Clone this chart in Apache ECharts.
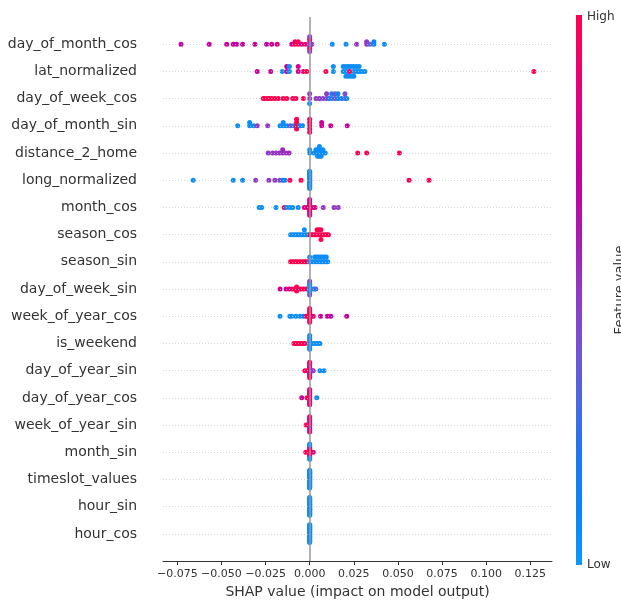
<!DOCTYPE html>
<html><head><meta charset="utf-8">
<script src="https://cdn.jsdelivr.net/npm/echarts@6/dist/echarts.min.js"></script>
<style>html,body{margin:0;padding:0;background:#fff}#c{width:621px;height:604px}</style>
</head><body><div id="c"></div>
<script>
// Feature names, top (most important) to bottom
const features = ['day_of_month_cos','lat_normalized','day_of_week_cos','day_of_month_sin','distance_2_home',
  'long_normalized','month_cos','season_cos','season_sin','day_of_week_sin','week_of_year_cos','is_weekend',
  'day_of_year_sin','day_of_year_cos','week_of_year_sin','month_sin','timeslot_values','hour_sin','hour_cos'];
const xTicks = [-0.075,-0.05,-0.025,0,0.025,0.05,0.075,0.1,0.125];
const colorbarLabels = ['High','Low'];
const colorbarTitle = 'Feature value';
const xTitle = 'SHAP value (impact on model output)';

// each entry: [SHAP value, normalized feature value (0 = low, 1 = high), number of samples]
const day_of_month_cos = [[-0.0729,0.72,1],[-0.0569,0.72,1],[-0.047,0.72,1],[-0.0433,0.72,1],[-0.0414,0.72,1],[-0.038,0.72,1],
  [-0.031,0.72,1],[-0.0244,0.72,1],[-0.0215,0.78,1],[-0.0184,0.85,1],[-0.0102,0.78,1],[-0.0083,0.95,2],[-0.0065,1,2],
  [-0.0045,0.8,1],[-0.0025,0.9,1],[0,0.5,3],[0,0.95,2],[0,0.5,2],[0.0012,0.5,1],[0.0128,0.05,1],[0.0206,0.05,1],
  [0.0266,0.5,1],[0.0323,0.5,2],[0.0342,0.35,1],[0.0364,0.1,2],[0.0423,0.05,1]];
const lat_normalized = [[-0.0297,0.72,1],[-0.0221,0.72,1],[-0.0155,0.05,1],[-0.013,0.72,2],[-0.0115,0.05,2],[-0.0065,0.8,2],
  [-0.0036,0.9,1],[-0.0017,1,1],[0.0092,1,1],[0.0134,0.05,2],[0.019,0.05,2],[0.0205,0.05,3],[0.022,0.05,3],[0.0228,1,1],
  [0.0235,0.05,2],[0.025,0.05,3],[0.0265,0.05,2],[0.028,0.05,2],[0.0295,0.05,1],[0.0313,0.05,1],[0.127,1,1]];
const day_of_week_cos = [[-0.0263,1,1],[-0.0255,1,1],[-0.024,1,1],[-0.0228,1,1],[-0.0215,1,1],[-0.0197,1,1],[-0.0178,1,1],
  [-0.015,1,1],[-0.013,1,1],[-0.0096,1,1],[-0.0078,1,1],[-0.0036,1,1],[0,0.5,2],[0,0.05,1],[0.0036,0.5,1],[0.0055,0.5,1],
  [0.0075,0.45,1],[0.0096,0.5,2],[0.011,0.2,1],[0.0125,0.1,2],[0.0143,0.4,2],[0.016,0.1,2],[0.018,0.1,1],[0.02,0.4,2],[0.021,0.05,1]];
const day_of_month_sin = [[-0.0408,0.05,1],[-0.034,0.05,2],[-0.0318,0.05,1],[-0.0297,0.5,1],[-0.0238,0.5,1],[-0.0168,0.05,1],
  [-0.015,0.05,2],[-0.013,0.05,1],[-0.011,0.4,1],[-0.009,0.05,1],[-0.0074,1,4],[-0.0055,0.1,1],[-0.004,0.05,1],[0,0.95,5],
  [0.0068,0.78,2],[0.0119,0.78,1],[0.0213,0.75,1]];
const distance_2_home = [[-0.0235,0.5,1],[-0.021,0.5,1],[-0.0191,0.5,1],[-0.0172,0.5,1],[-0.0153,0.55,2],[-0.0134,0.5,1],
  [-0.0117,0.55,1],[0,0.05,2],[0.0025,0.05,1],[0.0035,0.05,2],[0.0045,0.05,3],[0.0055,0.05,4],[0.0065,0.05,3],[0.0075,0.05,2],
  [0.0088,0.05,1],[0.0272,1,1],[0.0323,1,1],[0.0508,1,1]];
const long_normalized = [[-0.066,0.05,1],[-0.0433,0.05,1],[-0.038,0.05,1],[-0.0306,0.5,1],[-0.0231,0.5,1],[-0.0197,0.5,1],
  [-0.017,0.45,1],[-0.0153,0.2,1],[-0.014,0.1,1],[-0.0112,1,1],[-0.0049,1,1],[0,0.05,22],[0.0563,1,1],[0.0676,1,1]];
const month_cos = [[-0.0286,0.05,1],[-0.0272,0.05,1],[-0.0191,0.05,1],[-0.0144,1,1],[-0.013,0.05,1],[-0.0112,0.05,1],
  [-0.0096,0.05,1],[-0.0065,0.05,1],[-0.003,0.9,1],[-0.0015,0.85,1],[0,0.85,9],[0.0015,0.9,1],[0.003,0.8,1],
  [0.0077,0.5,1],[0.0138,0.5,1],[0.0162,0.5,1]];
const season_cos = [[-0.0108,0.05,1],[-0.0096,0.05,1],[-0.0085,0.05,1],[-0.0074,0.05,1],[-0.0063,0.05,1],[-0.0052,0.05,1],
  [-0.0041,0.05,1],[-0.003,0.05,2],[-0.0019,0.05,1],[-0.0008,0.05,1],[0.0002,1,1],[0.0012,1,1],[0.0022,1,1],[0.0032,1,1],
  [0.0042,1,2],[0.0052,1,2],[0.0064,1,3],[0.0075,1,1],[0.0085,1,1],[0.0096,1,1],[0.0106,1,1]];
const season_sin = [[-0.0108,1,1],[-0.0097,1,1],[-0.0086,1,1],[-0.0075,1,1],[-0.0064,1,1],[-0.0053,1,1],[-0.0042,1,1],
  [-0.0031,1,1],[-0.002,1,1],[-0.0009,1,1],[0,0.05,2],[0.0006,0.05,1],[0.0017,0.05,1],[0.0028,0.05,2],[0.0039,0.05,2],
  [0.005,0.05,2],[0.0061,0.05,2],[0.0072,0.05,2],[0.0083,0.05,2],[0.0094,0.05,2],[0.0102,0.05,1]];
const day_of_week_sin = [[-0.0168,0.78,1],[-0.0134,0.8,1],[-0.0115,0.85,1],[-0.01,0.9,1],[-0.0085,1,1],[-0.0074,1,3],
  [-0.006,1,1],[-0.005,0.9,1],[-0.0036,1,1],[-0.002,1,1],[0,0.05,6],[0,0.4,2],[0.0011,0.05,1],[0.0025,0.05,1],[0.0035,0.3,1]];
const week_of_year_cos = [[-0.0168,0.05,1],[-0.0112,0.05,1],[-0.0102,0.05,1],[-0.0078,0.05,1],[-0.0055,0.05,1],
  [-0.0036,0.1,1],[-0.002,0.9,1],[-0.001,1,1],[0,1,8],[0.001,1,1],[0.002,0.9,1],[0.0062,0.75,1],[0.01,0.72,1],
  [0.012,0.7,1],[0.021,0.75,1]];
const is_weekend = [[-0.0089,1,1],[-0.0078,1,1],[-0.0067,1,1],[-0.0056,1,1],[-0.0045,1,1],[-0.0034,1,1],[-0.0027,1,1],
  [0,0.05,8],[0.0012,0.05,1],[0.0025,0.05,1],[0.0037,0.05,1],[0.0048,0.05,1],[0.0058,0.05,1]];
const day_of_year_sin = [[-0.0027,1,1],[-0.0013,0.9,1],[0,0.9,6],[0,0.6,2],[0,0.95,4],[0.0013,0.6,1],[0.002,0.5,1],
  [0.0058,0.05,1],[0.0081,0.05,1]];
const day_of_year_cos = [[-0.0045,0.75,1],[-0.0015,1,1],[0,0.9,12],[0.004,0.05,1]];
const week_of_year_sin = [[-0.002,1,1],[0,0.95,4],[0,0.6,3],[0,0.9,5]];
const month_sin = [[-0.0022,1,1],[0,1,6],[0,0.8,2],[0,0.05,4],[0.002,0.9,1]];
const timeslot_values = [[0,0.05,30]];
const hour_sin = [[0,0.05,30]];
const hour_cos = [[0,0.05,30]];

const featureData = [day_of_month_cos, lat_normalized, day_of_week_cos, day_of_month_sin, distance_2_home,
  long_normalized, month_cos, season_cos, season_sin, day_of_week_sin, week_of_year_cos, is_weekend,
  day_of_year_sin, day_of_year_cos, week_of_year_sin, month_sin, timeslot_values, hour_sin, hour_cos];

const cmap = ['#0d97fb','#0a85f3','#1d78ee','#4d67e2','#7651d4','#9238c4','#ab18b3','#c000a2','#d7008e','#ec0071','#ff0052'];

// SHAP-style beeswarm vertical layout
function beeswarm(entries, rowPos) {
  const vals = [], fvs = [];
  entries.forEach(([v, f, c]) => { for (let k = 0; k < c; k++) { vals.push(v); fvs.push(f); } });
  const N = vals.length;
  const mn = Math.min(...vals), mx = Math.max(...vals);
  const quant = vals.map(v => Math.round(100 * (v - mn) / (mx - mn + 1e-8)));
  const inds = vals.map((_, i) => i).sort((a, b) => quant[a] - quant[b] || a - b);
  const ys = new Array(N).fill(0);
  let layer = 0, last = -1;
  for (const i of inds) {
    if (quant[i] !== last) layer = 0;
    ys[i] = Math.ceil(layer / 2) * ((layer % 2) * 2 - 1);
    layer++; last = quant[i];
  }
  const m = Math.max(...ys.map(y => y + 1));
  const s = 0.9 * 0.4 / m;
  return vals.map((v, i) => [v, rowPos + ys[i] * s, fvs[i]]);
}

const nF = features.length;
let points = [];
featureData.forEach((d, i) => { points = points.concat(beeswarm(d, nF - 1 - i)); });
const rowValues = features.map((_, i) => i);

const chart = echarts.init(document.getElementById('c'), null, {renderer: 'canvas'});
const font = 'DejaVu Sans';
chart.setOption({
  animation: false,
  backgroundColor: '#fff',
  textStyle: {fontFamily: font},
  grid: {left: 163, right: 69, top: 17, bottom: 39, containLabel: false},
  xAxis: {
    type: 'value', min: -0.0831, max: 0.1373,
    axisLine: {show: true, onZero: false, lineStyle: {color: '#333', width: 1}},
    axisTick: {show: true, customValues: xTicks, length: 4, lineStyle: {color: '#333'}},
    axisLabel: {customValues: xTicks, fontSize: 11, color: '#333', margin: 8, fontFamily: font,
      formatter: v => v.toFixed(3).replace('-', '\u2212')},
    splitLine: {show: false},
    name: xTitle, nameLocation: 'middle', nameGap: 23,
    nameTextStyle: {fontSize: 14, color: '#333', fontFamily: font}
  },
  yAxis: {
    type: 'value', min: -1, max: 19,
    axisLine: {show: false, onZero: false}, axisTick: {show: false}, splitLine: {show: false},
    axisLabel: {customValues: rowValues, fontSize: 14, color: '#333', margin: 26, fontFamily: font,
      formatter: v => features[nF - 1 - Math.round(v)]}
  },
  visualMap: {show: false, type: 'continuous', min: 0, max: 1, dimension: 2, seriesIndex: 1,
    inRange: {color: cmap}},
  series: [
    {type: 'scatter', data: [], z: 1, silent: true,
     markLine: {silent: true, symbol: 'none', label: {show: false}, animation: false,
       data: rowValues.map(r => ({yAxis: r, lineStyle: {color: '#c8c8c8', width: 0.7, type: [1, 2]}}))
         .concat([{xAxis: 0, lineStyle: {color: '#999', width: 1.5, type: 'solid'}}])}},
    {type: 'scatter', data: points, symbolSize: 5, z: 3, itemStyle: {opacity: 1}}
  ],
  graphic: [
    {type: 'rect', left: 576, top: 15, shape: {width: 6, height: 550}, z: 10,
     style: {fill: new echarts.graphic.LinearGradient(0, 1, 0, 0,
       cmap.map((c, i) => ({offset: i / (cmap.length - 1), color: c})))}},
    {type: 'text', x: 587, y: 17, z: 10, style: {text: colorbarLabels[0], font: '12px "DejaVu Sans"', fill: '#333', verticalAlign: 'middle'}},
    {type: 'text', x: 587, y: 565, z: 10, style: {text: colorbarLabels[1], font: '12px "DejaVu Sans"', fill: '#333', verticalAlign: 'middle'}},
    {type: 'text', x: 620, y: 290, rotation: Math.PI / 2, z: 10,
     style: {text: colorbarTitle, font: '13px "DejaVu Sans"', fill: '#333', align: 'center', verticalAlign: 'middle'}}
  ]
});
</script></body></html>
